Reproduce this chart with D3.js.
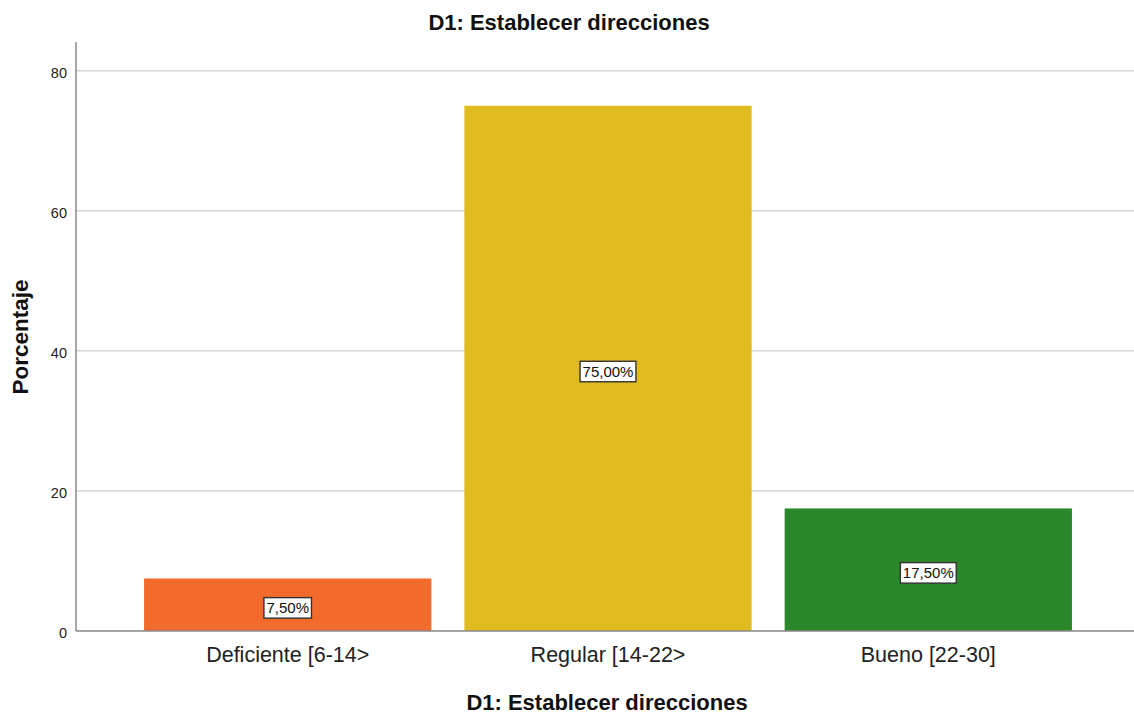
<!DOCTYPE html>
<html><head><meta charset="utf-8">
<script src="https://cdn.jsdelivr.net/npm/d3@7"></script>
<style>body{margin:0;background:#fff}svg{display:block}text{font-family:"Liberation Sans",Arial,sans-serif}</style>
</head><body>
<svg id="c" width="1134" height="715"></svg>
<script>
const categories = ["Deficiente [6-14>", "Regular [14-22>", "Bueno [22-30]"];
const values = [7.5, 75.0, 17.5];
const labels = ["7,50%", "75,00%", "17,50%"];
const colors = ["#f26a2c", "#e0bb20", "#2a882b"];
const yTicks = [0, 20, 40, 60, 80];

const svg = d3.select("#c");
const m = {l: 76, r: 0, t: 42, b: 84};
const W = 1134, H = 715;
const x = d3.scaleBand().domain(categories).range([m.l + 4, W - m.r + 2]).paddingInner(0.103).paddingOuter(0.2);
const y = d3.scaleLinear().domain([0, 84.1]).range([H - m.b, m.t]);

// gridlines
svg.append("g").selectAll("line").data(yTicks.filter(d => d > 0)).join("line")
  .attr("x1", m.l).attr("x2", W).attr("y1", d => y(d)).attr("y2", d => y(d))
  .attr("stroke", "#d4d4d4").attr("stroke-width", 1.5);

// bars
svg.append("g").selectAll("rect").data(values).join("rect")
  .attr("x", (d, i) => x(categories[i])).attr("width", x.bandwidth())
  .attr("y", d => y(d)).attr("height", d => y(0) - y(d))
  .attr("fill", (d, i) => colors[i]);

// axes
const yAxis = svg.append("g").attr("transform", `translate(${m.l},0)`)
  .call(d3.axisLeft(y).tickValues(yTicks).tickSize(0).tickPadding(9));
yAxis.select(".domain").remove();
yAxis.selectAll("text").attr("font-size", 14.5).attr("dy", "0.45em").attr("fill", "#222").attr("font-family", "Liberation Sans, Arial, sans-serif");
svg.append("line").attr("x1", m.l).attr("x2", m.l).attr("y1", m.t).attr("y2", y(0)).attr("stroke", "#888").attr("stroke-width", 1.5);

const xAxis = svg.append("g").attr("transform", `translate(0,${y(0)})`)
  .call(d3.axisBottom(x).tickSize(0).tickPadding(16));
xAxis.select(".domain").remove();
xAxis.selectAll("text").attr("font-size", 21.5).attr("fill", "#222").attr("font-family", "Liberation Sans, Arial, sans-serif");
svg.append("line").attr("x1", m.l).attr("x2", W).attr("y1", y(0)).attr("y2", y(0)).attr("stroke", "#888").attr("stroke-width", 1.5);

// value labels
const lg = svg.append("g").selectAll("g").data(values).join("g")
  .attr("transform", (d, i) => `translate(${x(categories[i]) + x.bandwidth() / 2},${(y(d) + y(0)) / 2 + 3})`);
lg.append("text").attr("text-anchor", "middle").attr("dy", "0.36em").attr("font-size", 15).attr("fill", "#111")
  .text((d, i) => labels[i]);
lg.each(function() {
  const g = d3.select(this);
  const b = g.select("text").node().getBBox();
  g.insert("rect", "text").attr("x", b.x - 2.5).attr("y", b.y - 1.5).attr("width", b.width + 5).attr("height", b.height + 3.5)
    .attr("fill", "#fff").attr("stroke", "#333").attr("stroke-width", 1.4);
});

// titles
svg.append("text").attr("x", 569).attr("y", 30).attr("text-anchor", "middle").attr("font-size", 22).attr("font-weight", "bold").attr("fill", "#111").text("D1: Establecer direcciones");
svg.append("text").attr("x", 607).attr("y", 710).attr("text-anchor", "middle").attr("font-size", 22).attr("font-weight", "bold").attr("fill", "#111").text("D1: Establecer direcciones");
svg.append("text").attr("transform", "translate(28,337) rotate(-90)").attr("text-anchor", "middle").attr("font-size", 22.5).attr("font-weight", "bold").attr("fill", "#111").text("Porcentaje");
</script>
</body></html>
